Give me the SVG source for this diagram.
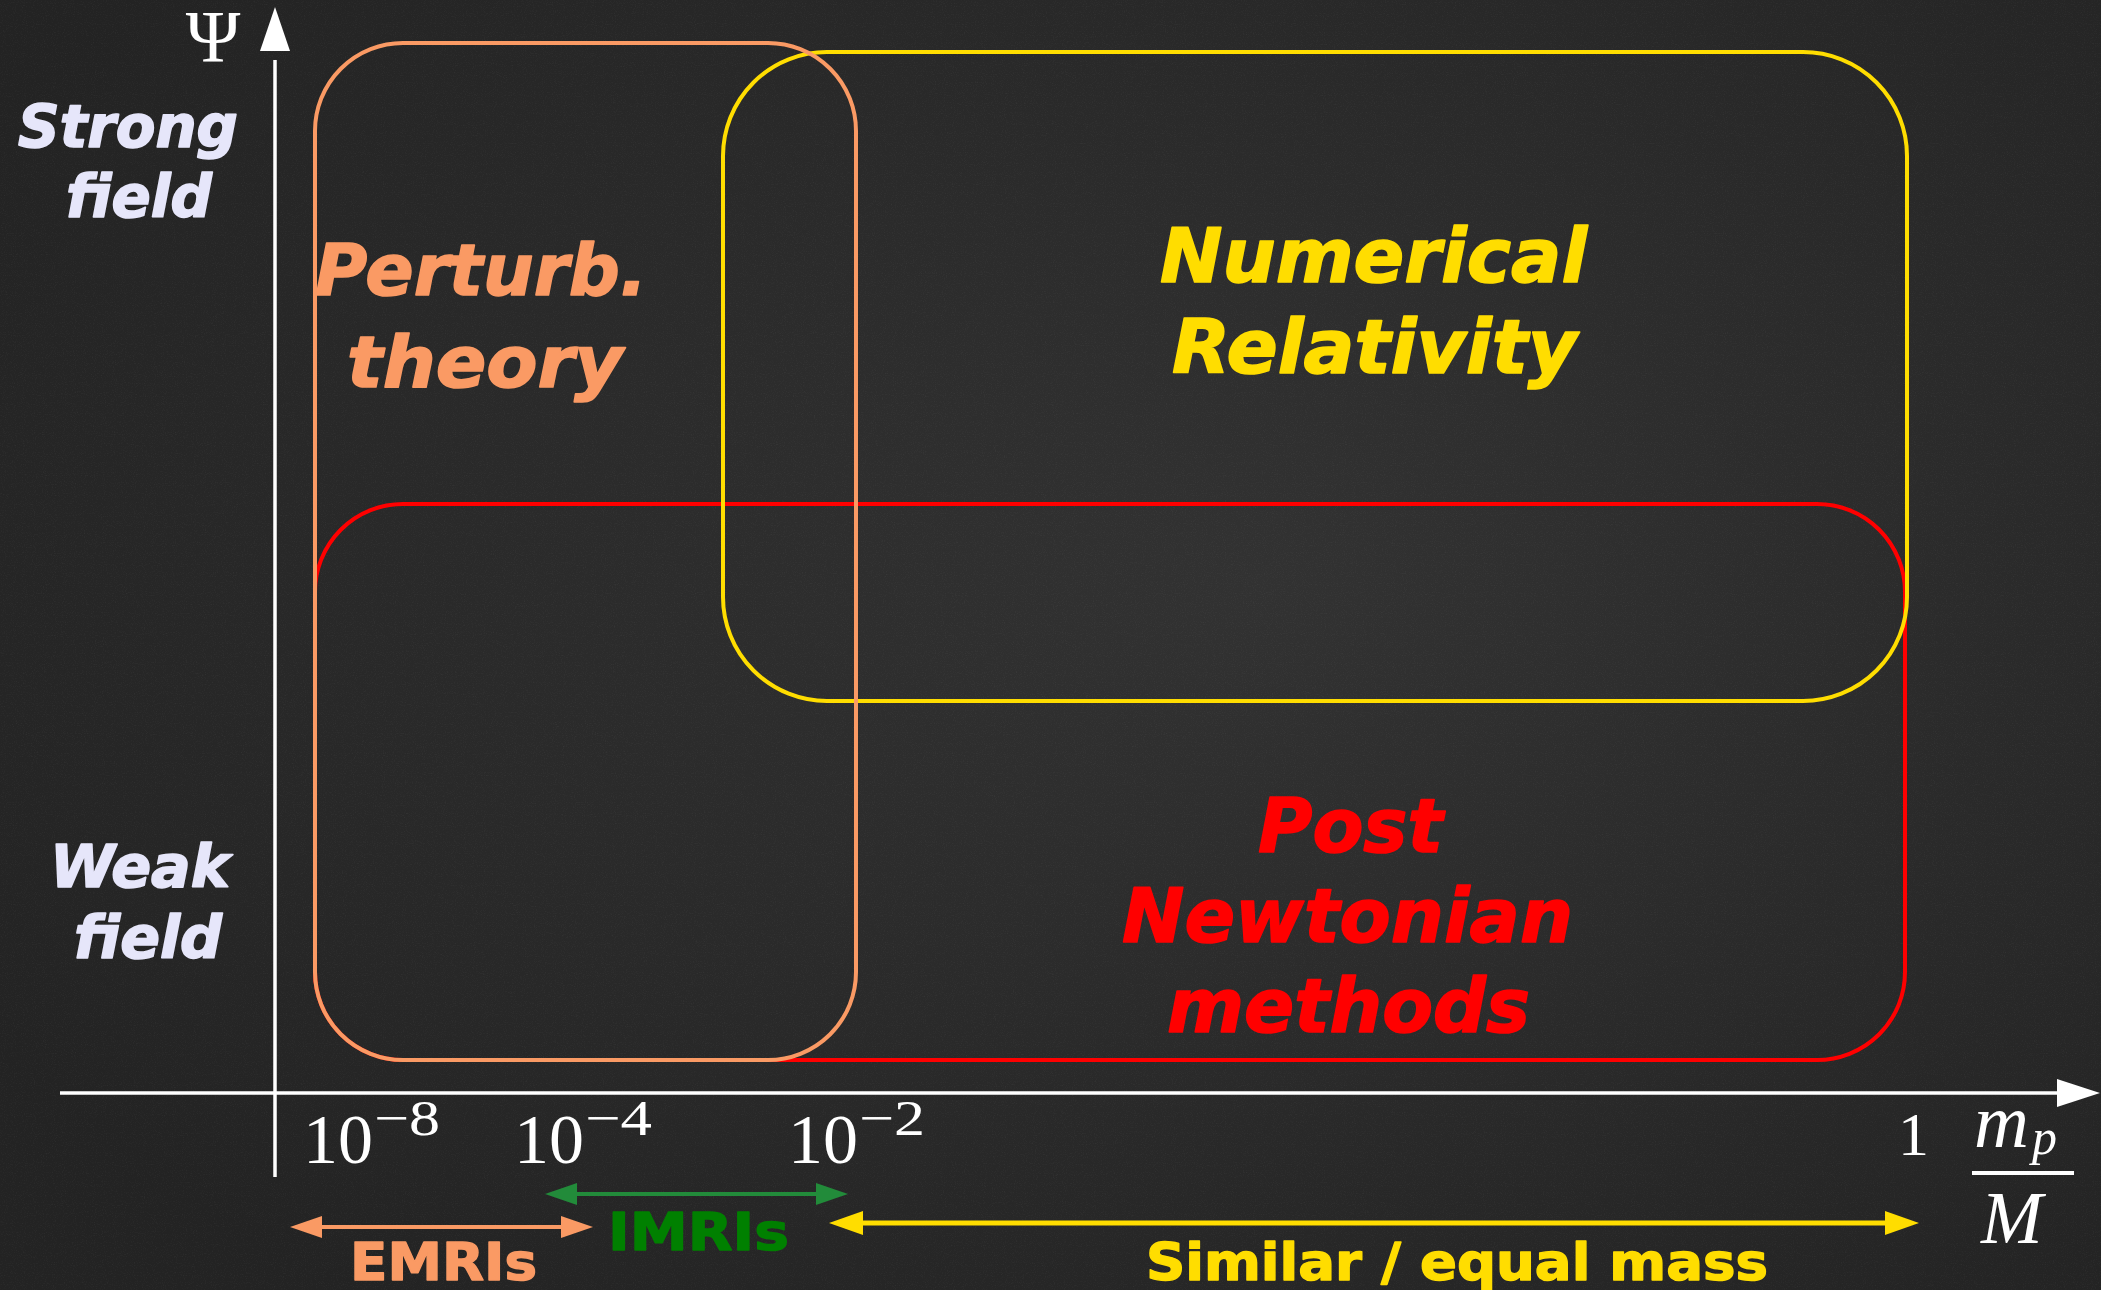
<svg xmlns="http://www.w3.org/2000/svg" width="2101" height="1290" viewBox="0 0 2101 1290">
  <defs>
    <filter id="chalk" x="0" y="0" width="100%" height="100%">
      <feTurbulence type="fractalNoise" baseFrequency="0.9" numOctaves="2" seed="7" result="n"/>
      <feColorMatrix type="matrix" values="0 0 0 0 1  0 0 0 0 1  0 0 0 0 1  0 0 0 0.9 -0.45"/>
    </filter>
    <radialGradient id="bgGlow" cx="0.6" cy="0.45" r="0.7">
      <stop offset="0" stop-color="#323232"/>
      <stop offset="1" stop-color="#232323"/>
    </radialGradient>
    <style>
      .box { fill: none; stroke-width: 4; }
      .lbl { font-family: "DejaVu Sans", Verdana, sans-serif; font-weight: bold; font-style: italic; stroke-width: 1.6; stroke-linejoin: round; }
      .tag { font-family: "DejaVu Sans", Verdana, sans-serif; font-weight: bold; stroke-width: 1.4; stroke-linejoin: round; }
      .math { font-family: "Liberation Serif", "DejaVu Serif", serif; fill: #ffffff; }
      .axis { stroke: #ffffff; stroke-width: 3.5; fill: none; }
    </style>
  </defs>

  <rect x="0" y="0" width="2101" height="1290" fill="url(#bgGlow)"/>
  <rect x="0" y="0" width="2101" height="1290" filter="url(#chalk)" opacity="0.12"/>

  <!-- axes -->
  <g id="axes">
    <line class="axis" x1="275" y1="1177" x2="275" y2="60"/>
    <polygon points="275,7 260,51 290,51" fill="#ffffff"/>
    <line class="axis" x1="60" y1="1093" x2="2060" y2="1093"/>
    <polygon points="2100,1093 2057,1079 2057,1107" fill="#ffffff"/>
    <text class="math" x="213" y="62" font-size="74" text-anchor="middle">Ψ</text>
  </g>

  <!-- y-axis labels -->
  <g id="strong-field" class="lbl" fill="#e6e6fa" stroke="#e6e6fa" font-size="58">
    <text x="18" y="147" textLength="220" lengthAdjust="spacingAndGlyphs">Strong</text>
    <text x="66" y="217" textLength="146" lengthAdjust="spacingAndGlyphs">field</text>
  </g>
  <g id="weak-field" class="lbl" fill="#e6e6fa" stroke="#e6e6fa" font-size="58">
    <text x="50" y="887" textLength="180" lengthAdjust="spacingAndGlyphs">Weak</text>
    <text x="74" y="958" textLength="148" lengthAdjust="spacingAndGlyphs">field</text>
  </g>

  <!-- regions -->
  <g id="post-newtonian">
    <rect class="box" x="315" y="504" width="1590" height="556" rx="88" ry="88" stroke="#ff0000"/>
    <g class="lbl" fill="#ff0000" stroke="#ff0000" font-size="74">
      <text x="1258" y="852" textLength="185" lengthAdjust="spacingAndGlyphs">Post</text>
      <text x="1122" y="942" textLength="451" lengthAdjust="spacingAndGlyphs">Newtonian</text>
      <text x="1167" y="1032" textLength="363" lengthAdjust="spacingAndGlyphs">methods</text>
    </g>
  </g>
  <g id="numerical-relativity">
    <rect class="box" x="723" y="52" width="1184" height="649" rx="104" ry="104" stroke="#ffdd00"/>
    <g class="lbl" fill="#ffdd00" stroke="#ffdd00" font-size="74">
      <text x="1160" y="282" textLength="427" lengthAdjust="spacingAndGlyphs">Numerical</text>
      <text x="1172" y="373" textLength="405" lengthAdjust="spacingAndGlyphs">Relativity</text>
    </g>
  </g>
  <g id="perturbation-theory">
    <rect class="box" x="315" y="43" width="541" height="1017" rx="88" ry="88" stroke="#fa9a64" stroke-width="3.5"/>
    <g class="lbl" fill="#fa9a64" stroke="#fa9a64" font-size="72">
      <text x="315" y="295" textLength="332" lengthAdjust="spacingAndGlyphs">Perturb.</text>
      <text x="347" y="387" textLength="276" lengthAdjust="spacingAndGlyphs">theory</text>
    </g>
  </g>

  <!-- tick labels -->
  <g id="ticks" class="math">
    <text x="303" y="1163" font-size="70">10</text>
    <text x="374" y="1135" font-size="50" textLength="66" lengthAdjust="spacingAndGlyphs">−8</text>
    <text x="514" y="1163" font-size="70">10</text>
    <text x="585" y="1135" font-size="50" textLength="67" lengthAdjust="spacingAndGlyphs">−4</text>
    <text x="788" y="1163" font-size="70">10</text>
    <text x="859" y="1135" font-size="50" textLength="66" lengthAdjust="spacingAndGlyphs">−2</text>
    <text x="1898" y="1155" font-size="62">1</text>
  </g>
  <g id="x-label" class="math">
    <text x="1974" y="1147" font-size="76" font-style="italic">m</text>
    <text x="2032" y="1154" font-size="50" font-style="italic">p</text>
    <rect x="1972" y="1171" width="102" height="4" fill="#ffffff"/>
    <text x="1981" y="1243" font-size="74" font-style="italic">M</text>
  </g>

  <!-- range arrows -->
  <g id="connectors">
    <g id="emri-arrow" fill="#fa9a64">
      <line x1="315" y1="1227" x2="568" y2="1227" stroke="#fa9a64" stroke-width="4"/>
      <polygon points="290,1227 322,1216 322,1238"/>
      <polygon points="593,1227 561,1216 561,1238"/>
    </g>
    <g id="imri-arrow" fill="#228b3a">
      <line x1="570" y1="1194" x2="823" y2="1194" stroke="#228b3a" stroke-width="4"/>
      <polygon points="545,1194 577,1183 577,1205"/>
      <polygon points="848,1194 816,1183 816,1205"/>
    </g>
    <g id="similar-arrow" fill="#ffdd00">
      <line x1="855" y1="1223" x2="1893" y2="1223" stroke="#ffdd00" stroke-width="5"/>
      <polygon points="829,1223 863,1211 863,1235"/>
      <polygon points="1919,1223 1885,1211 1885,1235"/>
    </g>
  </g>

  <g id="emris" class="tag" fill="#fa9a64" stroke="#fa9a64" font-size="52">
    <text x="350" y="1280" textLength="187" lengthAdjust="spacingAndGlyphs">EMRIs</text>
  </g>
  <g id="imris" class="tag" fill="#008000" stroke="#008000" font-size="52">
    <text x="608" y="1250" textLength="181" lengthAdjust="spacingAndGlyphs">IMRIs</text>
  </g>
  <g id="similar-mass" class="tag" fill="#ffdd00" stroke="#ffdd00" font-size="52">
    <text x="1146" y="1280" textLength="622" lengthAdjust="spacingAndGlyphs">Similar / equal mass</text>
  </g>
</svg>
